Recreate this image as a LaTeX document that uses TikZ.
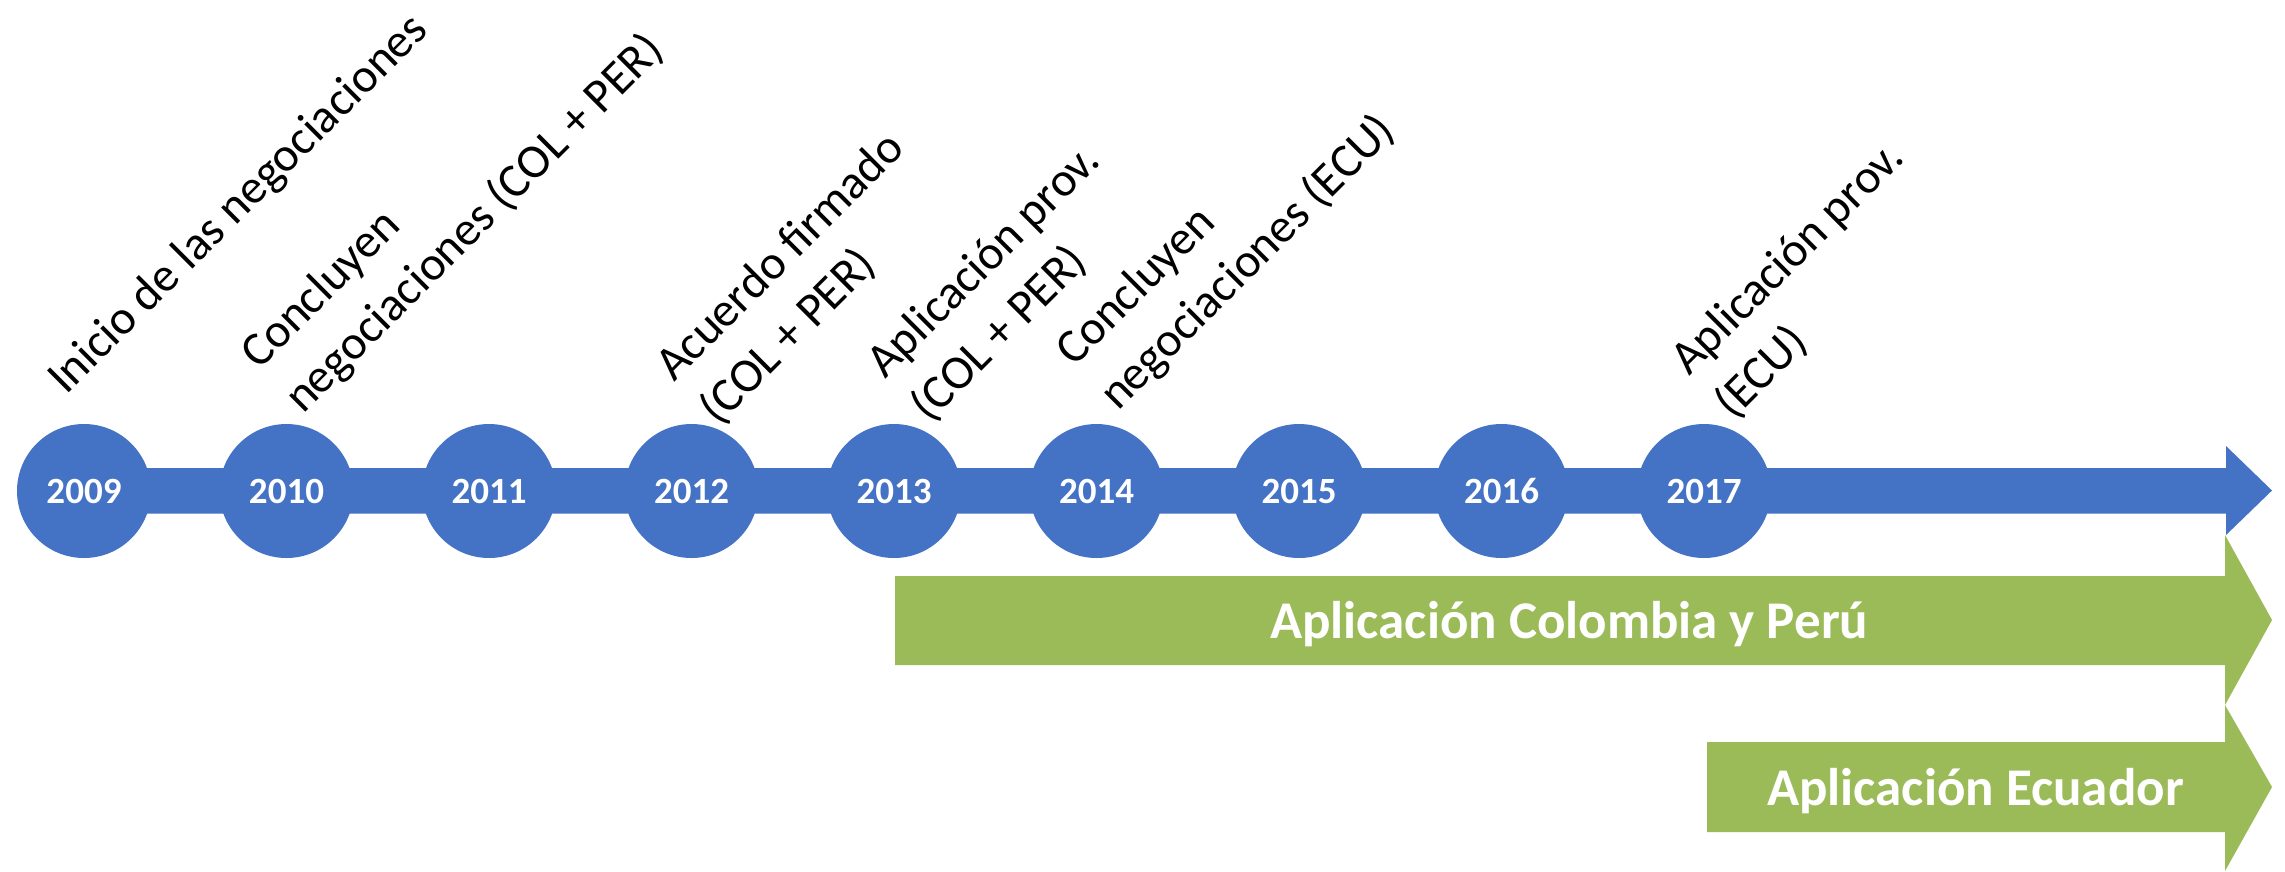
\documentclass[tikz,border=0pt]{standalone}
\usepackage{fontspec}
\setmainfont{Carlito}
\definecolor{tlblue}{HTML}{4472C4}
\definecolor{tlgreen}{HTML}{9BBB59}
\begin{document}
\begin{tikzpicture}[x=1pt,y=-1pt,
  year/.style={circle, fill=tlblue, minimum size=134pt, inner sep=0pt, text=white,
    font=\fontsize{37}{44}\selectfont\bfseries},
  event/.style={rotate=45, anchor=base west, inner sep=0pt, font=\fontsize{48}{62}\selectfont},
  band/.style={fill=tlgreen},
  bandlabel/.style={anchor=base west, inner sep=0pt, text=white,
    font=\fontsize{53}{62}\selectfont\bfseries}]
\useasboundingbox (0,0) rectangle (2285,871);

% blue timeline arrow
\fill[tlblue] (84,468) -- (2226,468) -- (2226,446) -- (2272,490.5) -- (2226,535)
  -- (2226,513.5) -- (84,513.5) -- cycle;

% year circles
\foreach \yr [count=\i from 0] in {2009,2010,2011,2012,2013,2014,2015,2016,2017}
  \node[year] (c\yr) at ({84+202.5*\i},491) {\yr};

% green application arrows
\fill[band] (895,576) -- (2225,576) -- (2225,535) -- (2272,620) -- (2225,705)
  -- (2225,665) -- (895,665) -- cycle;
\fill[band] (1707,742) -- (2225,742) -- (2225,705) -- (2272,787) -- (2225,871)
  -- (2225,832) -- (1707,832) -- cycle;

\node[bandlabel] (g1) at (1270,638) {Aplicación Colombia y Perú};
\node[bandlabel] (g2) at (1767,805) {Aplicación Ecuador};

% rotated event labels
\node[event] (e2009)  at (66,396)   {Inicio de las negociaciones};
\node[event] (e2010a) at (259,371)  {Concluyen};
\node[event] (e2010b) at (303,415)  {negociaciones (COL + PER)};
\node[event] (e2012a) at (674,383)  {Acuerdo firmado};
\node[event] (e2012b) at (718,427)  {(COL + PER)};
\node[event] (e2013a) at (885,380)  {Aplicación prov.};
\node[event] (e2013b) at (929,424)  {(COL + PER)};
\node[event] (e2014a) at (1074,368) {Concluyen};
\node[event] (e2014b) at (1118,412) {negociaciones (ECU)};
\node[event] (e2017a) at (1689,377) {Aplicación prov.};
\node[event] (e2017b) at (1733,421) {(ECU)};
\end{tikzpicture}
\end{document}
